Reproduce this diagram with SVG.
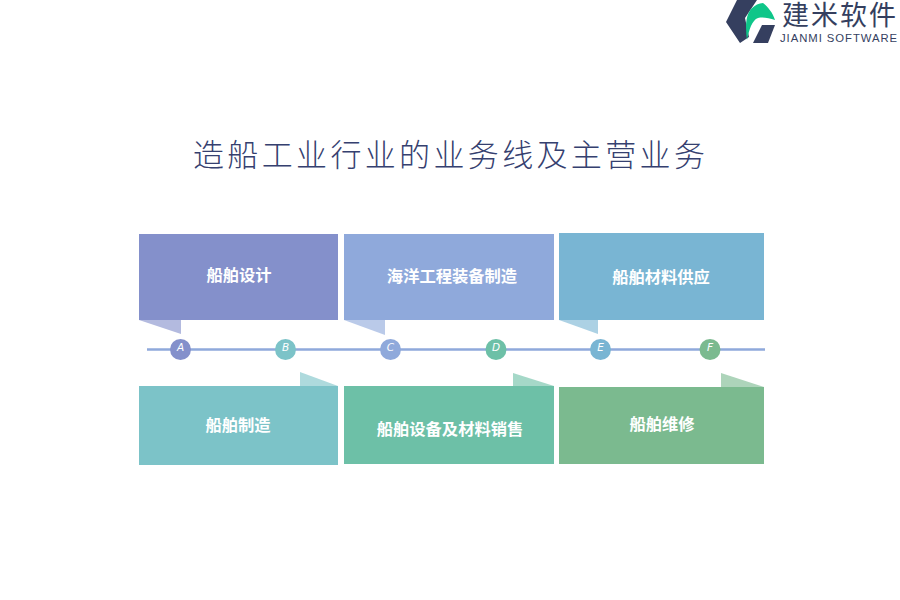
<svg xmlns="http://www.w3.org/2000/svg" width="900" height="600" viewBox="0 0 900 600">
<style>
text{font-family:"Liberation Serif","Noto Sans CJK SC",serif}
.cjk{font-family:"Noto Sans CJK SC",sans-serif}
.lbl{font-size:16.3px;font-weight:700;fill:#fff;text-anchor:middle;font-family:"Noto Sans CJK SC",sans-serif}
.let{font-size:10.5px;font-style:italic;fill:#fff;text-anchor:middle;font-family:"DejaVu Sans",sans-serif}
.fold{opacity:.62}
</style>
<rect width="900" height="600" fill="#fff"/>
<g id="logo">
<path d="M737 0 L757 0 L745 18 L749 37 L740 43 L726 22 Z" fill="#353f5f"/>
<path d="M747 40 C745 26 746 15 751 9 C755 5 759 3 763 3 C768 7 773 13 775 20 C769 18 763 17 758 18 C752 20 749 30 747 40 Z" fill="#0fc689"/>
<path d="M753 43 L762 25 L775 25 L768 43 Z" fill="#353f5f"/>
<text x="782" y="25" class="cjk" font-size="27" letter-spacing="2" fill="#353f5f">建米软件</text>
<text x="780" y="42" font-size="11.3" letter-spacing="0.95" fill="#353f5f" style="font-family:'Liberation Sans',sans-serif">JIANMI SOFTWARE</text>
</g>
<text id="title" x="193" y="166" class="cjk" font-size="31" font-weight="300" letter-spacing="3.35" fill="#35406f">造船工业行业的业务线及主营业务</text>
<g id="connectors">
<line x1="147" y1="349.5" x2="765" y2="349.5" stroke="#8fa9db" stroke-width="2.5"/>
</g>
<g id="node-top-1">
<path class="fold" d="M139 320 L181 320 L181 334 Z" fill="#8490cb"/>
<rect x="139" y="234" width="199" height="86" fill="#8490cb"/>
<text x="239" y="281" class="lbl">船舶设计</text>
</g>
<g id="node-top-2">
<path class="fold" d="M344 320 L385 320 L385 335 Z" fill="#8fa9db"/>
<rect x="344" y="234" width="210" height="86" fill="#8fa9db"/>
<text x="452" y="282" class="lbl">海洋工程装备制造</text>
</g>
<g id="node-top-3">
<path class="fold" d="M559 320 L598 320 L598 334 Z" fill="#79b5d3"/>
<rect x="559" y="233" width="205" height="87" fill="#79b5d3"/>
<text x="661" y="283" class="lbl">船舶材料供应</text>
</g>
<g id="node-bottom-1">
<path class="fold" d="M300 386 L300 372 L338 386 Z" fill="#7cc3c8"/>
<rect x="139" y="386" width="199" height="79" fill="#7cc3c8"/>
<text x="238" y="431" class="lbl">船舶制造</text>
</g>
<g id="node-bottom-2">
<path class="fold" d="M513 386 L513 373 L554 386 Z" fill="#6dc0a7"/>
<rect x="344" y="386" width="210" height="78" fill="#6dc0a7"/>
<text x="450" y="435" class="lbl">船舶设备及材料销售</text>
</g>
<g id="node-bottom-3">
<path class="fold" d="M721 387 L721 373 L764 387 Z" fill="#7bba8f"/>
<rect x="559" y="387" width="205" height="77" fill="#7bba8f"/>
<text x="662" y="430" class="lbl">船舶维修</text>
</g>
<g id="node-a"><circle cx="180.500" cy="349.500" r="10.500" fill="#8490cb"/><text x="180.500" y="351" class="let">A</text></g>
<g id="node-b"><circle cx="285.500" cy="349.500" r="10.500" fill="#7cc3c8"/><text x="285.500" y="351" class="let">B</text></g>
<g id="node-c"><circle cx="390.500" cy="349.500" r="10.500" fill="#8fa9db"/><text x="390.500" y="351" class="let">C</text></g>
<g id="node-d"><circle cx="496" cy="349.500" r="10.500" fill="#6dc0a7"/><text x="496" y="351" class="let">D</text></g>
<g id="node-e"><circle cx="600.500" cy="349.500" r="10.500" fill="#79b5d3"/><text x="600.500" y="351" class="let">E</text></g>
<g id="node-f"><circle cx="710" cy="349.500" r="10.500" fill="#7bba8f"/><text x="710" y="351" class="let">F</text></g>
</svg>
